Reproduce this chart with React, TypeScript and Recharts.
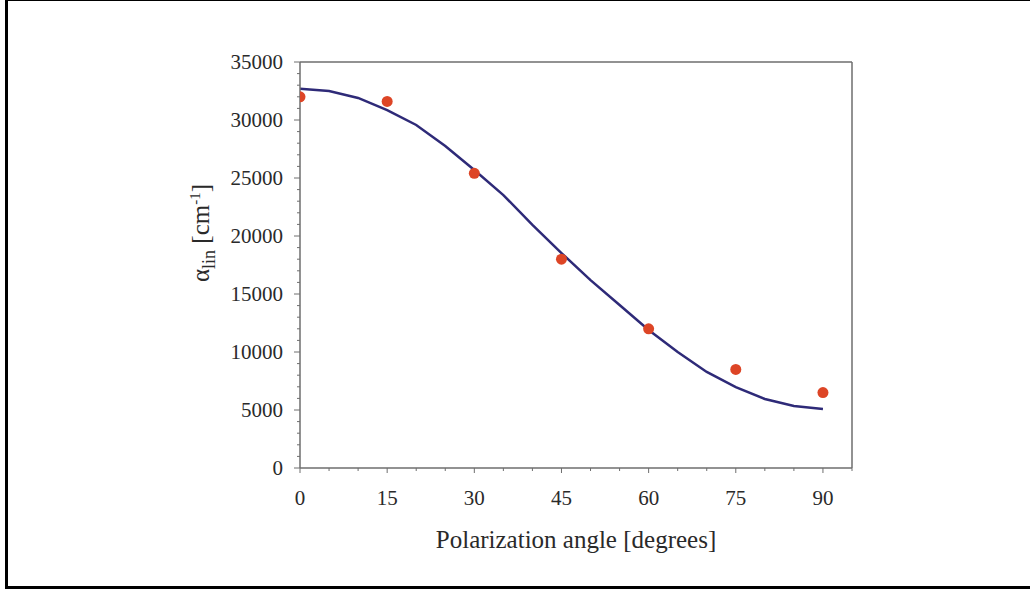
import React from 'react';
import { ComposedChart, Line, Scatter, XAxis, YAxis, ReferenceLine } from 'recharts';

const measuredAngles = [0, 15, 30, 45, 60, 75, 90];
const measuredAlpha = [32000, 31600, 25400, 18000, 12000, 8500, 6500];

const fitAngles = [0, 5, 10, 15, 20, 25, 30, 35, 40, 45, 50, 55, 60, 65, 70, 75, 80, 85, 90];
const fitAlpha = [32700, 32500, 31900, 30860, 29570, 27760, 25690, 23530, 20950, 18530, 16200, 14050, 11900, 10000, 8280, 6980, 5950, 5340, 5090];

const xTicks = [0, 5, 10, 15, 20, 25, 30, 35, 40, 45, 50, 55, 60, 65, 70, 75, 80, 85, 90, 95];
const yTicks = Array.from({ length: 36 }, (_, i) => i * 1000);

const measured = measuredAngles.map((a, i) => ({ x: a, y: measuredAlpha[i] }));
const fit = fitAngles.map((a, i) => ({ x: a, y: fitAlpha[i] }));

const FONT = '"Liberation Serif", "DejaVu Serif", serif';
const AXIS = '#6e6e6e';
const TXT = '#2a2a2a';

const XTick = (props: any) => {
  const { x, y, payload } = props;
  const v = payload.value;
  const major = v % 15 === 0;
  return (
    <g>
      <line x1={x} x2={x} y1={y} y2={y + (major ? 5 : 3)} stroke={AXIS} strokeWidth={1} />
      {major && v <= 90 ? (
        <text x={x} y={y + 37} textAnchor="middle" fontFamily={FONT} fontSize={21} fill={TXT}>
          {v}
        </text>
      ) : null}
    </g>
  );
};

const YTick = (props: any) => {
  const { x, y, payload } = props;
  const v = payload.value;
  const major = v % 5000 === 0;
  return (
    <g>
      <line x1={x - (major ? 6 : 3)} x2={x} y1={y} y2={y} stroke={AXIS} strokeWidth={1} />
      {major ? (
        <text x={x - 17} y={y + 7} textAnchor="end" fontFamily={FONT} fontSize={21} fill={TXT}>
          {v}
        </text>
      ) : null}
    </g>
  );
};

const YLabel = () => (
  <text
    transform="translate(209, 233) rotate(-90)"
    textAnchor="middle"
    fontFamily={FONT}
    fontSize={25}
    fill={TXT}
  >
    <tspan>α</tspan>
    <tspan fontSize={18} dy={6}>lin</tspan>
    <tspan dy={-6}> [cm</tspan>
    <tspan fontSize={15} dy={-9}>-1</tspan>
    <tspan dy={9}>]</tspan>
  </text>
);

const XLabel = () => (
  <text x={576} y={548} textAnchor="middle" fontFamily={FONT} fontSize={25} fill={TXT}>
    Polarization angle [degrees]
  </text>
);

const Dot = (props: any) => {
  const { cx, cy } = props;
  return <circle cx={cx} cy={cy} r={5.5} fill="#DD4526" />;
};

export default function App() {
  return (
    <div style={{ position: 'absolute', left: 0, top: 0, width: 1030, height: 591, background: '#fff' }}>
      <div
        style={{
          position: 'absolute',
          left: 5,
          top: -2,
          width: 1040,
          height: 591,
          border: '3px solid #000',
          boxSizing: 'border-box',
        }}
      />
      <div style={{ position: 'absolute', left: 0, top: 0 }}>
        <ComposedChart
          width={1030}
          height={591}
          margin={{ top: 62, right: 178, bottom: 93, left: 200 }}
        >
          <XAxis
            type="number"
            dataKey="x"
            domain={[0, 95]}
            ticks={xTicks}
            interval={0}
            allowDataOverflow
            tickLine={false}
            tickSize={0}
            tickMargin={0}
            height={30}
            axisLine={{ stroke: AXIS, strokeWidth: 1.5 }}
            tick={<XTick />}
          />
          <YAxis
            type="number"
            dataKey="y"
            domain={[0, 35000]}
            ticks={yTicks}
            interval={0}
            allowDataOverflow
            tickLine={false}
            tickSize={0}
            tickMargin={0}
            width={100}
            axisLine={{ stroke: AXIS, strokeWidth: 1.5 }}
            tick={<YTick />}
          />
          <ReferenceLine y={35000} stroke={AXIS} strokeWidth={1.5} />
          <ReferenceLine x={95} stroke={AXIS} strokeWidth={1.5} />
          <Line
            data={fit}
            dataKey="y"
            type="linear"
            stroke="#2E2A78"
            strokeWidth={2.5}
            dot={false}
            activeDot={false}
            isAnimationActive={false}
          />
          <Scatter data={measured} dataKey="y" shape={<Dot />} isAnimationActive={false} />
          <YLabel />
          <XLabel />
        </ComposedChart>
      </div>
    </div>
  );
}
